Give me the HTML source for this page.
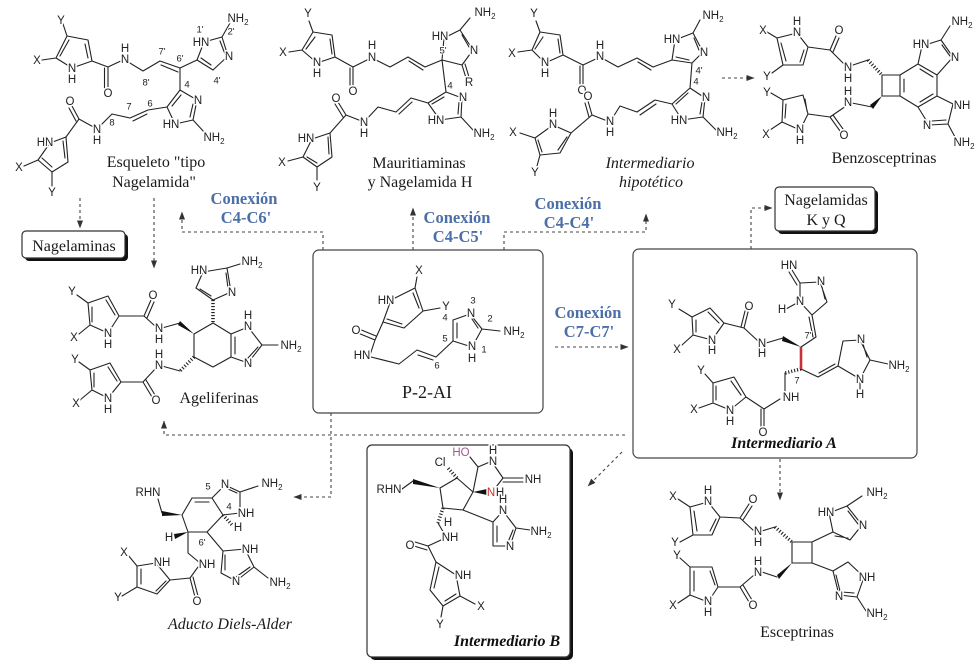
<!DOCTYPE html>
<html><head><meta charset="utf-8"><style>
html,body{margin:0;padding:0;background:#fff;}
svg{display:block}
.a{font-family:"Liberation Sans",sans-serif;font-size:11.5px;fill:#222;text-anchor:middle;dominant-baseline:central;stroke:#fff;stroke-width:3px;paint-order:stroke;stroke-linejoin:round}
.n{font-family:"Liberation Sans",sans-serif;font-size:9.5px;fill:#222;text-anchor:middle;dominant-baseline:central;stroke:#fff;stroke-width:2px;paint-order:stroke}
.t{font-family:"Liberation Serif",serif;font-size:16px;fill:#1a1a1a;text-anchor:middle}
.ti{font-family:"Liberation Serif",serif;font-size:16px;fill:#1a1a1a;text-anchor:middle;font-style:italic}
.tb{font-family:"Liberation Serif",serif;font-size:16px;fill:#111;text-anchor:middle;font-style:italic;font-weight:bold}
.b{font-family:"Liberation Serif",serif;font-size:16.5px;font-weight:bold;fill:#4d6fa8;text-anchor:middle}
</style></head><body>
<svg width="980" height="665" viewBox="0 0 980 665" xmlns="http://www.w3.org/2000/svg">
<defs>
<marker id="ah" markerWidth="8" markerHeight="6" refX="7.5" refY="3" orient="auto" markerUnits="userSpaceOnUse"><path d="M0,0 L8,3 L0,6 z" fill="#333"/></marker>
</defs>
<rect width="980" height="665" fill="#fff"/>

<!-- boxes -->
<rect x="313" y="250" width="230" height="163" rx="6" fill="none" stroke="#444" stroke-width="1.2"/>
<rect x="633" y="249" width="284" height="209" rx="6" fill="none" stroke="#444" stroke-width="1.2"/>
<rect x="370" y="448" width="203" height="212" rx="5" fill="#111"/>
<rect x="367" y="445" width="203" height="212" rx="5" fill="#fff" stroke="#333" stroke-width="1.2"/>
<rect x="25" y="234" width="103" height="27" rx="4" fill="#111"/>
<rect x="22" y="231" width="103" height="27" rx="4" fill="#fff" stroke="#333" stroke-width="1.2"/>
<rect x="778" y="190" width="100" height="44" rx="4" fill="#111"/>
<rect x="775" y="187" width="100" height="44" rx="4" fill="#fff" stroke="#333" stroke-width="1.2"/>

<!-- connectors -->
<g fill="none" stroke="#444" stroke-width="1.1" stroke-dasharray="3,3">
<path d="M80,198 V228" marker-end="url(#ah)"/>
<path d="M154,198 V268" marker-end="url(#ah)"/>
<path d="M323,250 V232 H182 V212" marker-end="url(#ah)"/>
<path d="M413,250 V208" marker-end="url(#ah)"/>
<path d="M504,250 V232 H646 V214" marker-end="url(#ah)"/>
<path d="M722,78 H754" marker-end="url(#ah)"/>
<path d="M751,249 V208 H772" marker-end="url(#ah)"/>
<path d="M555,347 H628" marker-end="url(#ah)"/>
<path d="M331,413 V497 H294" marker-end="url(#ah)"/>
<path d="M625,435 H164 V421" marker-end="url(#ah)"/>
<path d="M622,452 L588,486" marker-end="url(#ah)"/>
<path d="M780,459 V500" marker-end="url(#ah)"/>
</g>

<!-- bonds -->
<g fill="none" stroke="#222" stroke-width="1.1" stroke-linejoin="round" stroke-linecap="round">
<!-- S1 Esqueleto -->
<path d="M67,36 L88,40 L92,61 L72,68 L56,58 Z M85,44 L88,58 M60,56 L69,40 M67,36 L63,24 M56,58 L42,60 M92,61 L108,67 M108,67 L108,88 M104.5,68 L104.5,88 M108,67 L125,59 M125,60 L143,71 L160,61 L180,68 M161,65 L178,72 M180,68 L197,60 M180,68 L180,90
M197,60 L204,42 L222,37 L228,56 L213,70 Z M220,41 L225,54 M201,58 L211,65 M222,37 L230,23
M180,90 L197,100 L193,120 L175,124 L167,107 Z M181,95 L172,106 M193,104 L190,117 M193,120 L205,133
M167,107 L148,110 L130,118 M147,114 L133,121 M130,118 L112,114 L97,129 M97,129 L79,119 L72,106 M76,121 L69,108 M79,119 L66,137
M66,137 L50,143 L38,160 L52,172 L68,162 Z M42,158 L52,167 M63,141 L65,158 M38,160 L24,166 M52,172 L52,186"/>
<!-- S2 Mauritiaminas -->
<path d="M313,32 L332,35 L335,57 L317,63 L302,50 Z M315,37 L306,49 M330,39 L332,54 M313,32 L309,21 M302,50 L289,52
M335,57 L353,67 L353,85 M350,68 L350,85 M353,67 L371,58 M372,58 L390,67 L408,57 L425,67 M409,61 L423,70 M425,67 L442,60
M442,60 L444,38 L460,30 L473,50 L462,65 Z M462,35 L469,47 M462,65 L466,78 M465,64 L469,77 M460,30 L470,18 M442,60 L446,92
M446,92 L462,98 L461,117 L440,120 L428,103 Z M444,97 L432,104 M459,102 L458,114 M461,117 L473,130
M428,103 L411,98 L396,112 M412,102 L399,114 M396,112 L378,107 L364,122 L346,115 L338,102 M343,117 L335,104 M346,115 L330,133
M330,133 L312,139 L303,157 L317,167 L332,157 Z M307,157 L317,163 M328,137 L329,154 M303,157 L288,161 M317,167 L317,180"/>
<!-- S3 hipotetico -->
<path d="M540,32 L560,35 L563,55 L545,63 L532,50 Z M543,37 L535,49 M558,39 L560,53 M540,32 L536,21 M532,50 L518,52
M563,55 L583,65 L583,84 M580,66 L580,84 M583,65 L600,57 L618,67 L637,58 L653,67 M638,62 L651,70 M653,67 L672,60
M672,60 L675,40 L693,33 L703,52 L692,63 Z M694,38 L699,50 M676,57 L689,60 M693,33 L700,20 M692,63 L690,88
M690,88 L705,98 L703,117 L682,120 L672,104 Z M688,93 L676,104 M702,102 L700,114 M703,117 L716,130
M672,104 L655,100 L637,112 M656,104 L640,115 M637,112 L620,106 L610,122 L592,115 L588,101 M589,117 L585,103 M592,115 L571,133
M571,133 L553,125 L535,138 L540,155 L560,153 Z M538,140 L542,152 M567,137 L558,150 M535,138 L520,133 M540,155 L537,166"/>
<!-- S4 Benzosceptrinas -->
<path d="M777,38 L797,33 L808,47 L803,65 L783,65 Z M786,61 L781,43 M804,50 L800,62 M777,38 L767,32 M783,65 L772,73
M808,47 L830,50 L836,36 M833,52 L839,38 M830,50 L846,66 M850,66 L868,60
M882,75 L900,75 L900,96 L882,96 Z
M900,75 L918,64 L937,75 L937,96 L918,107 L900,96 M904,79 L904,92 M920,69 L933,77 M920,102 L933,94
M918,64 L922,46 L941,40 L953,57 L937,75 M942,45 L950,56 M941,40 L950,26
M937,96 L953,104 L948,124 L929,125 L918,107 M946,120 L932,121 M948,124 L955,137
M872,107 L852,103 M846,106 L830,117 L840,131 M833,115 L843,129 M830,117 L808,114
M783,100 L803,95 L808,114 L800,130 L782,122 Z M786,104 L785,118 M805,99 L807,111 M783,100 L771,93 M782,122 L770,130"/>
<!-- P-2-AI -->
<path d="M415,288 L391,300 L383,322 L404,328 L423,311 Z M413,293 L419,308 M387,319 L402,324 M415,288 L417,277 M423,311 L440,308
M383,322 L375,340 L358,333 M376,336 L359,329 M375,340 L370,355 M371,357 L399,364 L417,350 L436,357 M418,355 L433,360 M436,357 L453,341
M453,341 L453,320 L470,314 L482,329 L472,347 Z M457,323 L457,338 M472,319 L478,328 M482,329 L500,331"/>
<!-- Intermediario A -->
<path d="M800,302 L800,283 L820,282 L827,302 L812,315 Z M822,287 L825,299 M800,283 L792,270 M797,285 L789,272 M795,304 L786,309
M812,315 L816,337 M809,317 L813,337 M816,337 L801,347
M783,338 L766,343 M758,341 L744,328 L748,312 M741,327 L745,311 M744,328 L724,323
M692,317 L710,308 L724,323 L712,340 L693,335 Z M708,312 L719,323 M696,320 L696,332 M692,317 L679,309 M693,335 L682,345
M785,373 L785,393 M801,369 L818,377 L838,366 M819,373 L835,364
M838,366 L843,341 L860,340 L870,360 L860,379 Z M863,344 L867,357 M870,360 L888,364 M860,379 L860,389
M780,399 L764,409 L764,427 M761,409 L761,427 M764,409 L746,397
M713,383 L734,377 L746,397 L730,410 L713,403 Z M731,381 L741,395 M716,386 L716,400 M713,383 L705,374 M713,403 L699,408"/>
<!-- Ageliferinas -->
<path d="M203,272 L227,268 L231,292 L213,300 L196,288 Z M226,273 L228,288 M200,289 L211,296 M227,268 L240,264
M213,323 L194,334 L194,357 L213,367 L231,357 L231,334 Z M235,337 L235,354
M231,334 L248,327 L262,345 L248,363 L231,357 M258,347 L248,358 M262,345 L278,345
M180,323 L162,328 M155,326 L144,316 L151,300 M147,318 L154,302 M144,316 L119,316
M88,303 L108,296 L119,316 L108,333 L90,325 Z M106,300 L115,315 M92,307 L92,322 M88,303 L77,295 M90,325 L79,334
M180,371 L162,366 M156,368 L143,382 L152,397 M146,380 L155,395 M143,382 L121,382
M90,370 L110,363 L121,382 L108,398 L92,390 Z M108,367 L117,381 M94,373 L94,387 M90,370 L79,362 M92,390 L80,400"/>
<!-- Diels-Alder -->
<path d="M158,499 L162,513
M182,515 L192,498 L212,498 L223,515 L207,532 L188,532 Z M195,502 L209,502
M212,498 L225,485 L240,492 L240,513 L223,515 M228,489 L237,493 M240,492 L258,486
M207,532 L223,551
M223,551 L245,549 L254,567 L236,581 L221,573 Z M250,567 L236,577 M225,555 L225,570 M254,567 L268,578
M188,532 L188,553 L200,563 M198,567 L190,578 L195,597 M193,577 L198,596 M190,578 L170,580
M137,566 L156,563 L170,580 L157,594 L137,587 Z M141,569 L141,584 M166,581 L156,591 M137,566 L128,555 M137,587 L122,596"/>
<!-- Intermediario B -->
<path d="M440,488 L457,478 L473,492 L463,510 L443,508 Z
M413,481 L402,489
M473,492 L478,467 L492,461 M494,465 L503,478 L523,478 M503,482 L523,482 M503,478 L493,491
M478,467 L470,457
M463,510 L493,522 M493,522 L503,511 L516,528 L510,546 L493,546 Z M497,526 L497,542 M513,530 L508,542 M516,528 L530,530
M438,523 L445,535 M441,540 L428,546 L415,542 M427,550 L414,546 M428,546 L436,562
M436,562 L456,575 L460,596 L443,606 L430,590 Z M456,594 L445,601 M434,588 L439,567 M460,596 L475,604 M443,606 L441,617"/>
<!-- Esceptrinas -->
<path d="M690,507 L708,502 L720,517 L712,535 L693,535 Z M694,511 L697,531 M716,519 L710,531 M690,507 L678,499 M693,535 L680,542
M720,517 L740,518 L749,504 M743,520 L752,506 M740,518 L754,531 M762,531 L775,527
M792,542 L812,542 L812,563 L792,563 Z
M812,542 L833,532 M833,532 L829,513 L847,506 L862,525 L850,540 Z M848,511 L858,524 M835,536 L848,538 M847,506 L862,496
M812,563 L833,571 M833,571 L848,562 L864,577 L857,597 L839,595 Z M836,575 L840,591 M854,593 L842,592 M857,597 L866,611
M777,577 L762,572 M754,575 L740,587 L749,602 M743,585 L752,600 M740,587 L718,587
M690,567 L712,567 L718,587 L708,602 L690,595 Z M694,571 L694,591 M710,571 L715,585 M690,567 L680,558 M690,595 L678,603"/>
</g>

<!-- hashed wedges -->
<g fill="none" stroke="#222" stroke-width="3.5" stroke-dasharray="1.1,1.9">
<path d="M868,60 L882,75"/>
<path d="M801,369 L785,373"/>
<path d="M213,300 L213,323"/>
<path d="M194,357 L180,371"/>
<path d="M223,515 L233,526"/>
<path d="M457,478 L447,467"/>
<path d="M443,508 L438,523"/>
<path d="M775,527 L792,542"/>
</g>
<!-- bold wedges -->
<g fill="#111" stroke="none">
<polygon points="882,96 870,105 873,109"/>
<polygon points="801,347 783,336 782,341"/>
<polygon points="194,334 180,321 178,325"/>
<polygon points="182,515 162,511 162,516"/>
<polygon points="188,532 174,534 175,539"/>
<polygon points="440,488 413,479 413,484"/>
<polygon points="473,492 487,489 487,495"/>
<polygon points="792,563 777,575 779,579"/>
</g>
<path d="M801,347 L801,369" stroke="#c8303a" stroke-width="2.6" fill="none"/>

<!-- atom labels -->
<g class="lbl">
<!-- S1 -->
<text class="a" x="61" y="21">Y</text><text class="a" x="37" y="61">X</text>
<text class="a" x="72" y="69">N</text><text class="a" x="72" y="80">H</text>
<text class="a" x="108" y="94">O</text>
<text class="a" x="125" y="60">N</text><text class="a" x="125" y="49">H</text>
<text class="a" x="201" y="43">HN</text><text class="a" x="229" y="57">N</text>
<text class="a" x="238" y="19">NH<tspan dy="3" font-size="8">2</tspan></text>
<text class="a" x="198" y="101">N</text><text class="a" x="171" y="125">HN</text>
<text class="a" x="214" y="138">NH<tspan dy="3" font-size="8">2</tspan></text>
<text class="a" x="97" y="130">N</text><text class="a" x="97" y="141">H</text>
<text class="a" x="70" y="102">O</text><text class="a" x="45" y="143">HN</text>
<text class="a" x="19" y="168">X</text><text class="a" x="52" y="193">Y</text>
<text class="n" x="200" y="30">1'</text><text class="n" x="231" y="32">2'</text><text class="n" x="217" y="81">4'</text>
<text class="n" x="180" y="59">6'</text><text class="n" x="162" y="52">7'</text><text class="n" x="146" y="83">8'</text>
<text class="n" x="187" y="85">4</text><text class="n" x="150" y="104">6</text><text class="n" x="129" y="107">7</text><text class="n" x="112" y="123">8</text>
<!-- S2 -->
<text class="a" x="308" y="14">Y</text><text class="a" x="283" y="53">X</text>
<text class="a" x="317" y="63">N</text><text class="a" x="317" y="74">H</text>
<text class="a" x="353" y="92">O</text>
<text class="a" x="372" y="58">N</text><text class="a" x="372" y="46">H</text>
<text class="a" x="440" y="37">HN</text><text class="a" x="474" y="51">N</text>
<text class="a" x="485" y="13">NH<tspan dy="3" font-size="8">2</tspan></text>
<text class="a" x="469" y="83">R</text>
<text class="a" x="463" y="98">N</text><text class="a" x="436" y="121">HN</text>
<text class="a" x="484" y="134">NH<tspan dy="3" font-size="8">2</tspan></text>
<text class="a" x="364" y="123">N</text><text class="a" x="364" y="134">H</text>
<text class="a" x="336" y="99">O</text><text class="a" x="306" y="139">HN</text>
<text class="a" x="282" y="163">X</text><text class="a" x="317" y="188">Y</text>
<text class="n" x="443" y="51">5'</text><text class="n" x="450" y="86">4</text>
<!-- S3 -->
<text class="a" x="534" y="14">Y</text><text class="a" x="512" y="54">X</text>
<text class="a" x="545" y="63">N</text><text class="a" x="545" y="74">H</text>
<text class="a" x="582" y="91">O</text>
<text class="a" x="600" y="57">N</text><text class="a" x="600" y="46">H</text>
<text class="a" x="672" y="40">HN</text><text class="a" x="704" y="53">N</text>
<text class="a" x="713" y="16">NH<tspan dy="3" font-size="8">2</tspan></text>
<text class="a" x="706" y="98">N</text><text class="a" x="679" y="121">HN</text>
<text class="a" x="727" y="133">NH<tspan dy="3" font-size="8">2</tspan></text>
<text class="a" x="610" y="122">N</text><text class="a" x="610" y="133">H</text>
<text class="a" x="588" y="97">O</text>
<text class="a" x="553" y="125">N</text><text class="a" x="553" y="114">H</text>
<text class="a" x="513" y="133">X</text><text class="a" x="535" y="173">Y</text>
<text class="n" x="699" y="71">4'</text><text class="n" x="696" y="82">4</text>
<!-- S4 -->
<text class="a" x="763" y="31">X</text>
<text class="a" x="797" y="33">N</text><text class="a" x="797" y="22">H</text>
<text class="a" x="767" y="77">Y</text><text class="a" x="839" y="31">O</text>
<text class="a" x="848" y="68">N</text><text class="a" x="848" y="79">H</text>
<text class="a" x="921" y="45">HN</text><text class="a" x="955" y="58">N</text>
<text class="a" x="962" y="22">NH<tspan dy="3" font-size="8">2</tspan></text>
<text class="a" x="962" y="106">NH</text><text class="a" x="927" y="126">N</text>
<text class="a" x="964" y="143">NH<tspan dy="3" font-size="8">2</tspan></text>
<text class="a" x="848" y="103">N</text><text class="a" x="848" y="92">H</text>
<text class="a" x="844" y="136">O</text>
<text class="a" x="767" y="93">Y</text><text class="a" x="766" y="135">X</text>
<text class="a" x="800" y="130">N</text><text class="a" x="800" y="141">H</text>
<!-- P-2-AI -->
<text class="a" x="419" y="271">X</text><text class="a" x="446" y="307">Y</text>
<text class="a" x="386" y="301">HN</text><text class="a" x="356" y="331">O</text>
<text class="a" x="362" y="356">HN</text>
<text class="a" x="471" y="314">N</text><text class="a" x="472" y="347">N</text><text class="a" x="472" y="359">H</text>
<text class="a" x="514" y="332">NH<tspan dy="3" font-size="8">2</tspan></text>
<text class="n" x="473" y="301">3</text><text class="n" x="490" y="319">2</text><text class="n" x="484" y="350">1</text>
<text class="n" x="445" y="318">4</text><text class="n" x="445" y="339">5</text><text class="n" x="437" y="366">6</text>
<!-- Intermediario A -->
<text class="a" x="789" y="266">HN</text><text class="a" x="821" y="282">N</text>
<text class="a" x="800" y="302">N</text><text class="a" x="782" y="310">H</text>
<text class="a" x="762" y="344">N</text><text class="a" x="762" y="354">H</text>
<text class="a" x="749" y="307">O</text>
<text class="a" x="672" y="305">Y</text><text class="a" x="677" y="350">X</text>
<text class="a" x="712" y="341">N</text><text class="a" x="712" y="351">H</text>
<text class="a" x="791" y="398">NH</text>
<text class="a" x="861" y="340">N</text>
<text class="a" x="899" y="366">NH<tspan dy="3" font-size="8">2</tspan></text>
<text class="a" x="860" y="380">N</text><text class="a" x="860" y="395">H</text>
<text class="a" x="763" y="433">O</text>
<text class="a" x="701" y="371">Y</text><text class="a" x="694" y="410">X</text>
<text class="a" x="730" y="411">N</text><text class="a" x="730" y="422">H</text>
<text class="n" x="808" y="336">7'</text><text class="n" x="797" y="381">7</text>
<!-- Ageliferinas -->
<text class="a" x="199" y="271">HN</text><text class="a" x="232" y="293">N</text>
<text class="a" x="252" y="262">NH<tspan dy="3" font-size="8">2</tspan></text>
<text class="a" x="248" y="327">N</text><text class="a" x="248" y="316">H</text>
<text class="a" x="248" y="364">N</text>
<text class="a" x="291" y="346">NH<tspan dy="3" font-size="8">2</tspan></text>
<text class="a" x="159" y="329">N</text><text class="a" x="159" y="340">H</text>
<text class="a" x="153" y="296">O</text>
<text class="a" x="72" y="292">Y</text><text class="a" x="74" y="338">X</text>
<text class="a" x="108" y="334">N</text><text class="a" x="108" y="345">H</text>
<text class="a" x="159" y="366">N</text><text class="a" x="159" y="355">H</text>
<text class="a" x="156" y="401">O</text>
<text class="a" x="75" y="360">Y</text><text class="a" x="76" y="404">X</text>
<text class="a" x="108" y="399">N</text><text class="a" x="108" y="410">H</text>
<!-- Diels-Alder -->
<text class="a" x="148" y="493">RHN</text>
<text class="a" x="225" y="485">N</text><text class="a" x="246" y="514">NH</text>
<text class="a" x="272" y="484">NH<tspan dy="3" font-size="8">2</tspan></text>
<text class="a" x="238" y="528">H</text><text class="a" x="169" y="538">H</text>
<text class="a" x="250" y="550">NH</text><text class="a" x="236" y="582">N</text>
<text class="a" x="280" y="583">NH<tspan dy="3" font-size="8">2</tspan></text>
<text class="a" x="207" y="565">NH</text><text class="a" x="197" y="602">O</text>
<text class="a" x="162" y="563">NH</text>
<text class="a" x="124" y="553">X</text><text class="a" x="118" y="598">Y</text>
<text class="n" x="208" y="487">5</text><text class="n" x="229" y="507">4</text><text class="n" x="202" y="543">6'</text>
<!-- Intermediario B -->
<text class="a" x="440" y="463">Cl</text>
<text class="a" x="461" y="453" style="fill:#9b5a8e">HO</text>
<text class="a" x="389" y="490">RHN</text>
<text class="a" x="493" y="462">N</text><text class="a" x="493" y="451">H</text>
<text class="a" x="533" y="480">NH</text>
<text class="a" x="491" y="493" style="fill:#d03030">N</text><text class="a" x="500" y="493">H</text>
<text class="a" x="503" y="511">N</text><text class="a" x="503" y="500">H</text>
<text class="a" x="541" y="532">NH<tspan dy="3" font-size="8">2</tspan></text>
<text class="a" x="510" y="547">N</text>
<text class="a" x="448" y="523">H</text><text class="a" x="450" y="538">NH</text>
<text class="a" x="410" y="546">O</text><text class="a" x="463" y="576">NH</text>
<text class="a" x="481" y="607">X</text><text class="a" x="440" y="625">Y</text>
<!-- Esceptrinas -->
<text class="a" x="673" y="497">X</text>
<text class="a" x="708" y="502">N</text><text class="a" x="708" y="491">H</text>
<text class="a" x="675" y="543">Y</text><text class="a" x="753" y="500">O</text>
<text class="a" x="758" y="532">N</text><text class="a" x="758" y="543">H</text>
<text class="a" x="826" y="513">HN</text><text class="a" x="863" y="526">N</text>
<text class="a" x="877" y="493">NH<tspan dy="3" font-size="8">2</tspan></text>
<text class="a" x="867" y="578">NH</text><text class="a" x="839" y="597">N</text>
<text class="a" x="877" y="614">NH<tspan dy="3" font-size="8">2</tspan></text>
<text class="a" x="758" y="573">N</text><text class="a" x="758" y="562">H</text>
<text class="a" x="753" y="606">O</text>
<text class="a" x="677" y="556">Y</text><text class="a" x="673" y="606">X</text>
<text class="a" x="708" y="602">N</text><text class="a" x="708" y="613">H</text>
</g>

<!-- titles -->
<text class="t" x="156" y="167">Esqueleto "tipo</text>
<text class="t" x="154" y="187">Nagelamida"</text>
<text class="t" x="419" y="168">Mauritiaminas</text>
<text class="t" x="420" y="187">y Nagelamida H</text>
<text class="ti" x="650" y="168">Intermediario</text>
<text class="ti" x="651" y="187">hipotético</text>
<text class="t" x="884" y="163">Benzosceptrinas</text>
<text class="t" x="74" y="251">Nagelaminas</text>
<text class="t" x="826" y="205">Nagelamidas</text>
<text class="t" x="826" y="225">K y Q</text>
<text class="t" x="219" y="403">Ageliferinas</text>
<text class="t" x="427" y="398" style="font-size:18px">P-2-AI</text>
<text class="tb" x="784" y="448">Intermediario A</text>
<text class="ti" x="230" y="629">Aducto Diels-Alder</text>
<text class="tb" x="507" y="646">Intermediario B</text>
<text class="t" x="797" y="637">Esceptrinas</text>

<!-- blue labels -->
<text class="b" x="244" y="204">Conexión</text>
<text class="b" x="246" y="223">C4-C6'</text>
<text class="b" x="457" y="223">Conexión</text>
<text class="b" x="458" y="242">C4-C5'</text>
<text class="b" x="568" y="209">Conexión</text>
<text class="b" x="569" y="228">C4-C4'</text>
<text class="b" x="588" y="318">Conexión</text>
<text class="b" x="589" y="337">C7-C7'</text>
</svg>
</body></html>
